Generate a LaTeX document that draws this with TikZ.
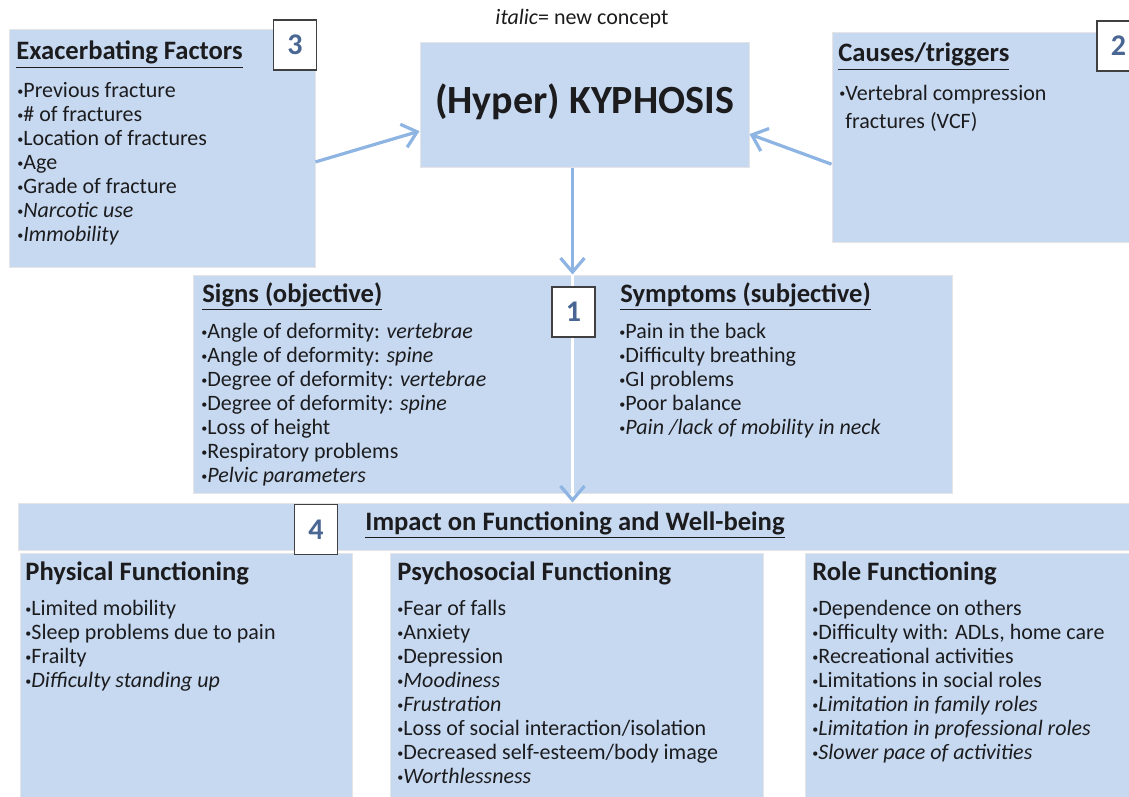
\documentclass[tikz,border=0pt]{standalone}
\usepackage{fontspec}
\setmainfont{Carlito}
\usetikzlibrary{arrows.meta,fit}

\definecolor{boxblue}{RGB}{198,217,241}
\definecolor{arrowblue}{RGB}{141,180,226}
\definecolor{numblue}{RGB}{74,102,146}
\definecolor{ink}{RGB}{28,28,30}

\newcommand{\bul}{\raisebox{0.1em}{\scalebox{0.55}{•}}}

\tikzset{
	panel/.style={fill=boxblue, draw=black!10, line width=0.5pt, inner sep=0pt},
	tag/.style={fill=white, draw=black!75, line width=0.8pt, inner sep=0pt,
		minimum width=21.5pt, minimum height=25pt,
		font=\fontsize{15}{15}\selectfont\bfseries, text=numblue},
	head/.style={anchor=base west, inner sep=0pt, text=ink,
		font=\fontsize{13.3}{14}\selectfont\bfseries},
	list/.style={anchor=north west, inner sep=0pt, align=left, text=ink,
		font=\fontsize{11}{12}\selectfont},
	arr/.style={draw=arrowblue, line width=1.6pt, -{Straight Barb[length=7pt,width=12pt]}},
}

\begin{document}
\begin{tikzpicture}[x=0.5pt, y=-0.5pt]
	\useasboundingbox (0,0) rectangle (1129,797);
	\clip (0,0) rectangle (1129,797);
	
	% boxes
	\node[panel, fit={(9,30) (315,267)}] (exac) {};
	\node[panel, minimum width=164.5pt, minimum height=62pt] (kyph) at (584.5,105) {};
	\node[panel, fit={(832,33) (1134,242)}] (cause) {};
	\node[panel, fit={(193,275) (952,493)}] (signs) {};
	\node[panel, fit={(18,503) (1134,550)}] (impact) {};
	\node[panel, fit={(20,553) (352,802)}] (phys) {};
	\node[panel, fit={(390,553) (763,802)}] (psych) {};
	\node[panel, fit={(805,553) (1134,802)}] (role) {};
	
	\node[anchor=base, inner sep=0pt, text=ink, font=\fontsize{20}{22}\selectfont\bfseries]
		(kyphl) at (584.5,113) {(Hyper) KYPHOSIS};
	\node[anchor=base, inner sep=0pt, text=ink, font=\fontsize{11}{12}\selectfont]
		(note) at (582,25) {\textit{italic}= new concept};
	
	% arrows
	\draw[arr] (exac.-5) -- (kyph.189);
	\draw[arr] (cause.190) -- (kyph.-10);
	\draw[arr] (kyph.south -| signs.north) -- (signs.north);
	\draw[white, line width=1.5pt,
		-{Straight Barb[color=arrowblue, line width=1.6pt, length=7pt, width=12pt]}]
		(signs.north) -- (impact.north -| signs.north);
	
	% exacerbating factors
	\node[head] (exach) at (16,60) {\underline{Exacerbating Factors}};
	\node[list] (exacl) at (17,80) {\strut\bul Previous fracture\\ \bul\# of fractures\\
		\bul Location of fractures\\ \bul Age\\ \bul Grade of fracture\\
		\bul\textit{Narcotic use}\\ \bul\textit{Immobility}};
	
	% causes
	\node[head] (causeh) at (838,62) {\underline{Causes/triggers}};
	\node[list] (causel) at (839,83) {\strut\bul Vertebral compression\\[2pt]
		\phantom{\bul}fractures (VCF)};
	
	% signs and symptoms
	\node[head] (signh) at (202,302) {\underline{Signs (objective)}};
	\node[list] (signl) at (201,321) {\strut\bul Angle of deformity: \textit{vertebrae}\\
		\bul Angle of deformity: \textit{spine}\\
		\bul Degree of deformity: \textit{vertebrae}\\
		\bul Degree of deformity: \textit{spine}\\
		\bul Loss of height\\ \bul Respiratory problems\\ \bul\textit{Pelvic parameters}};
	\node[head] (symph) at (620,302) {\underline{Symptoms (subjective)}};
	\node[list] (sympl) at (619,321) {\strut\bul Pain in the back\\ \bul Difficulty breathing\\
		\bul GI problems\\ \bul Poor balance\\ \bul\textit{Pain /lack of mobility in neck}};
	
	% impact
	\node[head] (imph) at (365,530) {\underline{Impact on Functioning and Well-being}};
	\node[head] (physh) at (25,580) {Physical Functioning};
	\node[list] (physl) at (25,598) {\strut\bul Limited mobility\\ \bul Sleep problems due to pain\\
		\bul Frailty\\ \bul\textit{Difficulty standing up}};
	\node[head] (psychh) at (397,580) {Psychosocial Functioning};
	\node[list] (psychl) at (397,598) {\strut\bul Fear of falls\\ \bul Anxiety\\ \bul Depression\\
		\bul\textit{Moodiness}\\ \bul\textit{Frustration}\\
		\bul Loss of social interaction/isolation\\
		\bul Decreased self-esteem/body image\\ \bul\textit{Worthlessness}};
	\node[head] (roleh) at (812,580) {Role Functioning};
	\node[list] (rolel) at (812,598) {\strut\bul Dependence on others\\
		\bul Difficulty with: ADLs, home care\\ \bul Recreational activities\\
		\bul Limitations in social roles\\ \bul\textit{Limitation in family roles}\\
		\bul\textit{Limitation in professional roles}\\ \bul\textit{Slower pace of activities}};
	
	% number tags
	\node[tag] (t1) at (573.5,312) {1};
	\node[tag] (t2) at (1118.5,46) {2};
	\node[tag] (t3) at (295,45) {3};
	\node[tag] (t4) at (316,529.5) {4};
\end{tikzpicture}
\end{document}
